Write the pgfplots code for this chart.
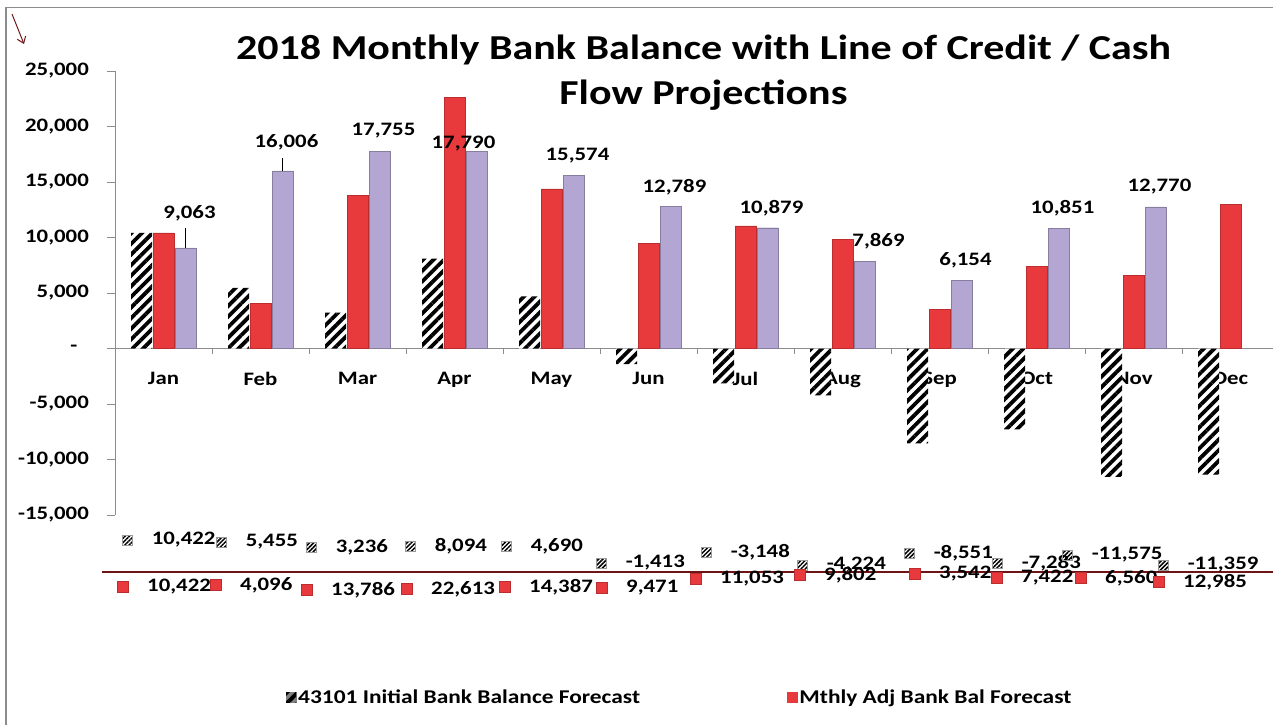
\documentclass[border=0pt]{standalone}
\usepackage{fontspec}
\setmainfont{Carlito}[FakeStretch=1.2]
\usepackage{pgfplots}
\pgfplotsset{compat=1.18}
\usepackage{pgfplotstable}
\usetikzlibrary{patterns.meta,arrows.meta}
\definecolor{barred}{RGB}{232,58,60}
\definecolor{barpurple}{RGB}{180,166,210}
\definecolor{axisgray}{RGB}{140,140,140}
\definecolor{darkline}{RGB}{110,20,20}
\newcommand\lbl{\fontsize{19}{22}\selectfont\bfseries}

\pgfplotstableread{
x init adj
0 10422 10422
1 5455 4096
2 3236 13786
3 8094 22613
4 4690 14387
5 -1413 9471
6 -3148 11053
7 -4224 9802
8 -8551 3542
9 -7283 7422
10 -11575 6560
11 -11359 12985
}\bartab

\pgfplotstableread{
x v dx dy lead
0 9063 4 35 1800
1 16006 4 29 1170
2 17755 4 21 0
3 17790 -13 7 0
4 15574 4 20 0
5 12789 4 19 0
6 10879 4 20 0
7 7869 14 20 0
8 6154 4 20 0
9 10851 4 20 0
10 12770 4 20 0
}\purpletab

\pgfplotstableread{
px py v
127 540 10422
221 542 5455
311 547 3236
410 546 8094
506 546 4690
601 563 -1413
706 552 -3148
802 565 -4224
909 553 -8551
997 563 -7283
1067 555 -11575
1163 565 -11359
}\inittab

\pgfplotstableread{
px py v
123 587 10422
216 585 4096
307 590 13786
407 589 22613
505 587 14387
602 588 9471
696 579 11053
800 575 9802
915 574 3542
997 578 7422
1081 578 6560
1159 582 12985
}\adjtab

\begin{document}
\begin{tikzpicture}[x=1pt,y=1pt]
\path[use as bounding box] (0,0) rectangle (1273,725);
\begin{scope}
\clip (0,0) rectangle (1273,725);
\draw[axisgray, line width=1.5pt] (6,0) -- (6,717.5) -- (1273,717.5);
\draw[darkline, line width=1pt, -{Straight Barb[length=6pt, width=9pt]}] (12,711) -- (24,681);
\node[font=\fontsize{35}{45}\selectfont\bfseries, align=center, anchor=north, inner sep=0pt]
  at (703.5,690) {2018 Monthly Bank Balance with Line of Credit / Cash\\Flow Projections};

\begin{axis}[
  at={(115pt,210pt)}, anchor=south west,
  scale only axis, width=1164pt, height=444pt,
  xmin=-0.5, xmax=11.5, ymin=-15000, ymax=25000,
  axis x line=middle, axis y line=left,
  axis line style={axisgray, line width=1pt, -},
  hide obscured x ticks=false, hide obscured y ticks=false,
  clip=false,
  tick align=outside,
  major tick length=8pt,
  tick style={axisgray, line width=0.8pt},
  scaled y ticks=false,
  ytick={-15000,-10000,-5000,5000,10000,15000,20000,25000},
  yticklabels={{-15,000},{-10,000},{-5,000},{5,000},{10,000},{15,000},{20,000},{25,000}},
  extra y ticks={0},
  extra y tick labels={{-\hphantom{0}}},
  yticklabel style={font=\lbl, anchor=east, inner sep=0pt, xshift=-18pt},
  xtick={0,...,11},
  xticklabels={Jan,Feb,Mar,Apr,May,Jun,Jul,Aug,Sep,Oct,Nov,Dec},
  xticklabel style={font=\lbl, anchor=north, inner sep=0pt, yshift=-15pt},
  major x tick style={draw=none},
  extra x ticks={0.5,1.5,...,10.5},
  extra x tick labels={},
  extra x tick style={major x tick style={draw=axisgray, line width=0.8pt}, major tick length=5pt},
  /pgf/number format/1000 sep={,},
  /pgf/number format/assume math mode=true,
  legend style={at={(axis description cs:0.144,-0.41)}, anchor=west, draw=none, fill=none,
    font=\fontsize{19.5}{22}\selectfont\bfseries, legend columns=2,
    /tikz/every even column/.append style={column sep=145pt}},
  legend cell align=left,
]
\addplot[ybar, bar width=21pt, bar shift=-22pt, draw=none, fill=white,
  postaction={pattern={Lines[angle=45,distance=7.5pt,line width=3.8pt]}},
  legend image code/.code={\fill[white] (0pt,-5pt) rectangle (10pt,5pt);
    \fill[pattern={Lines[angle=45,distance=5pt,line width=1pt]}] (0pt,-5pt) rectangle (10pt,5pt);
    \draw[gray] (0pt,-5pt) rectangle (10pt,5pt);}]
  table[x=x,y=init]{\bartab};
\addlegendentry{43101 Initial Bank Balance Forecast}
\addplot[ybar, bar width=21pt, bar shift=0pt, fill=barred, draw=barred!80!black, line width=0.4pt,
  legend image code/.code={\fill[barred] (0pt,-5pt) rectangle (10pt,5pt);}]
  table[x=x,y=adj]{\bartab};
\addlegendentry{Mthly Adj Bank Bal Forecast}
\addplot[ybar, bar width=21pt, bar shift=22pt, fill=barpurple, draw=barpurple!75!black, line width=0.4pt,
  forget plot,
  visualization depends on={\thisrow{dx}\as\dx},
  visualization depends on={\thisrow{dy}\as\dy},
  nodes near coords, point meta=y,
  every node near coord/.append style={font=\lbl, text=black, anchor=center, inner sep=0pt, xshift=22pt+\dx pt, yshift=\dy pt},
  error bars/.cd, y dir=plus, y explicit, error mark=none, error bar style={black, line width=0.8pt, xshift=22pt}]
  table[x=x,y=v,y error=lead]{\purpletab};
\end{axis}

\begin{axis}[
  at={(0pt,0pt)}, anchor=south west, scale only axis, width=1273pt, height=725pt,
  xmin=0, xmax=1273, ymin=0, ymax=725, y dir=reverse, hide axis, clip=false,
  /pgf/number format/1000 sep={,},
  /pgf/number format/assume math mode=true]
\addplot[darkline, line width=1.3pt] coordinates {(102,572) (1273,572)};
\addplot[only marks, mark=square*, mark size=5pt,
  mark options={draw=gray!80, pattern={Lines[angle=45,distance=3pt,line width=1.5pt]}},
  nodes near coords, point meta=explicit,
  every node near coord/.append style={font=\lbl, text=black, anchor=west, inner sep=0pt, xshift=24pt}]
  table[x=px, y=py, meta=v]{\inittab};
\addplot[only marks, mark=square*, mark size=5.5pt,
  mark options={draw=barred!80!black, fill=barred},
  nodes near coords, point meta=explicit,
  every node near coord/.append style={font=\lbl, text=black, anchor=west, inner sep=0pt, xshift=24pt}]
  table[x=px, y=py, meta=v]{\adjtab};
\end{axis}
\end{scope}
\end{tikzpicture}
\end{document}
